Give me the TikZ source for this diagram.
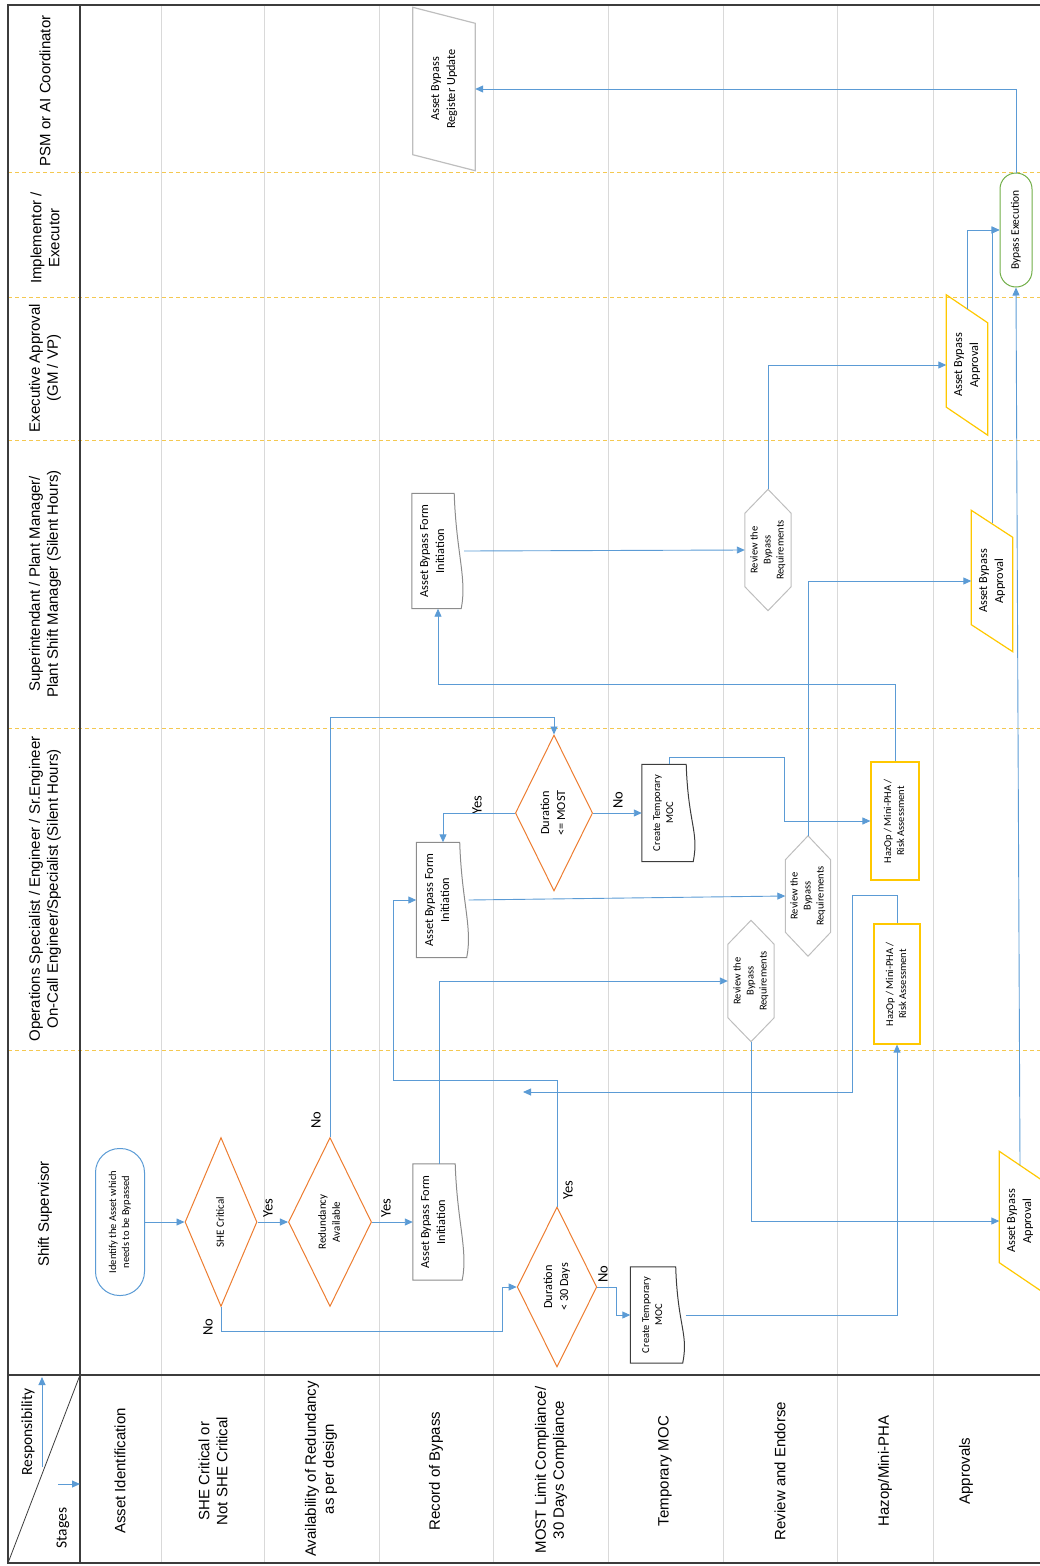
\documentclass[tikz,border=0pt]{standalone}
\usepackage{fontspec}
\setmainfont{Carlito}
\newfontfamily\arialfont{Liberation Sans}
\usepackage{graphicx}
\usepackage{xcolor}
\definecolor{flowblue}{RGB}{91,155,213}
\definecolor{diaorange}{RGB}{237,125,49}
\definecolor{hazgold}{RGB}{255,200,0}
\definecolor{lanedash}{RGB}{244,200,80}
\definecolor{gridgray}{RGB}{217,217,217}
\definecolor{hexgray}{RGB}{190,190,190}
\definecolor{docgray}{RGB}{140,140,140}
\definecolor{darkline}{RGB}{60,60,60}
\definecolor{execgreen}{RGB}{112,173,71}
\usetikzlibrary{shapes.geometric,arrows.meta}

\newcommand\smallnode{\fontsize{10.5}{13}\selectfont}
\newcommand\diafont{\fontsize{11}{14}\selectfont}
\newcommand\midnode{\fontsize{12.3}{16}\selectfont}
\newcommand\rtxt[1]{\rotatebox{90}{\begin{tabular}{@{}c@{}}#1\end{tabular}}}
% outlines drawn round plain boxes
\newcommand\docoutline[2]{\draw[#2, line width=1pt] (#1.north west) -- (#1.north east)
  .. controls +(2,60) and +(6,-30) .. ([xshift=7pt]#1.south east) -- (#1.south west) -- cycle;}
\newcommand\slantoutline[3]{\draw[#3, line width=1.2pt] (#1.north west) -- ([yshift=-#2pt]#1.north east)
  -- (#1.south east) -- ([yshift=#2pt]#1.south west) -- cycle;}
\newcommand\hexoutline[1]{\draw[hexgray, line width=1pt] (#1.north) -- ([yshift=-24pt]#1.north east)
  -- ([yshift=24pt]#1.south east) -- (#1.south) -- ([yshift=24pt]#1.south west)
  -- ([yshift=-24pt]#1.north west) -- cycle;}

\begin{document}
\begin{tikzpicture}[x=1pt, y=-1pt,
    flow/.style={->, >={Triangle[length=8pt,width=7pt]}, flowblue, line width=0.9pt},
    gridline/.style={gridgray, line width=0.8pt},
    lanesep/.style={lanedash, line width=0.8pt, dash pattern=on 4pt off 3pt},
    frameline/.style={darkline, line width=1.8pt},
    headline/.style={darkline, line width=1.2pt},
    lanetxt/.style={rotate=90, align=center, font=\arialfont\fontsize{15}{18}\selectfont},
    cornertxt/.style={rotate=90, font=\fontsize{15.5}{17}\selectfont},
    yn/.style={rotate=90, inner sep=0, font=\fontsize{14.5}{16}\selectfont},
    term/.style={rectangle, draw, line width=1pt, inner sep=0, font=\smallnode},
    decision/.style={diamond, draw=diaorange, line width=1pt, fill=white, inner sep=0, font=\midnode},
    hazard/.style={rectangle, draw=hazgold, line width=1.2pt, inner sep=0, font=\smallnode},
    plainbox/.style={rectangle, inner sep=0},
]
\useasboundingbox (0,0) rectangle (1039,1566);

%% --- stage grid and lane separators ---
\foreach \gx in {161,264,379,493,608,723,837,933}{
  \draw[gridline] (\gx,5) -- (\gx,1563);
}
\foreach \ly in {172,297,440,728,1050}{
  \draw[lanesep] (8,\ly) -- (1045,\ly);
}

%% --- frame ---
\draw[frameline] (8,5) rectangle (1045,1563);
\draw[headline] (80,5) -- (80,1563);
\draw[headline] (8,1375) -- (1045,1375);
\draw[darkline, line width=0.8pt] (8,1563) -- (80,1375);

%% --- lanes ---
\node[lanetxt] (laneP) at (45,91) {PSM or AI Coordinator};
\node[lanetxt] (laneI) at (45,238) {Implementor /\\Executor};
\node[lanetxt] (laneE) at (45,368) {Executive Approval\\(GM / VP)};
\node[lanetxt] (laneS) at (45,584) {Superintendant / Plant Manager/\\Plant Shift Manager (Silent Hours)};
\node[lanetxt] (laneO) at (45,889) {Operations Specialist / Engineer / Sr.Engineer\\On-Call Engineer/Specialist (Silent Hours)};
\node[lanetxt] (laneSS) at (45,1214) {Shift Supervisor};

%% --- stages ---
\node[lanetxt] (stgA) at (120,1471) {Asset Identification};
\node[lanetxt] (stgB) at (213,1471) {SHE Critical or\\Not SHE Critical};
\node[lanetxt] (stgC) at (321,1469) {Availability of Redundancy\\as per design};
\node[lanetxt] (stgD) at (436,1471) {Record of Bypass};
\node[lanetxt] (stgE) at (551,1470) {MOST Limit Compliance/\\30 Days Compliance};
\node[lanetxt] (stgF) at (665,1471) {Temporary MOC};
\node[lanetxt] (stgG) at (780,1471) {Review and Endorse};
\node[lanetxt] (stgH) at (885,1471) {Hazop/Mini-PHA};
\node[lanetxt] (stgI) at (966,1471) {Approvals};

%% --- corner ---
\node[cornertxt] (respLbl) at (28,1432) {Responsibility};
\node[cornertxt] (stgLbl) at (63,1528) {Stages};
\coordinate (respTail) at (42,1467);
\coordinate (respHead) at (42,1377);
\coordinate (stgTail) at (58,1484);
\coordinate (stgHead) at (80,1484);
\draw[flow] (respTail) -- (respHead);
\draw[flow] (stgTail) -- (stgHead);

%% --- shift supervisor ---
\node[term, draw=flowblue, minimum width=49, minimum height=147, rounded corners=24] (start) at (120,1222)
  {\rtxt{Identify the Asset which\\needs to be Bypassed}};
\node[decision, minimum width=72, minimum height=169] (sheCrit) at (221,1222) {\diafont\rtxt{SHE Critical}};
\node[decision, minimum width=74, minimum height=169] (redund) at (330,1222) {\diafont\rtxt{Redundancy\\Available}};
\node[plainbox, font=\midnode, minimum width=42, minimum height=116] (abfiA) at (434,1222)
  {\rtxt{Asset Bypass Form\\Initiation}};
\node[decision, minimum width=73, minimum height=160] (durA) at (557,1287) {\rtxt{Duration\\< 30 Days}};
\node[plainbox, font=\smallnode, minimum width=45, minimum height=96] (ctmA) at (653,1315)
  {\rtxt{Create Temporary\\MOC}};
\node[plainbox, font=\midnode, minimum width=41, minimum height=139] (apprA) at (1020,1221)
  {\rtxt{Asset Bypass\\Approval}};

%% --- operations specialist ---
\node[decision, minimum width=76, minimum height=156] (durB) at (554,813) {\rtxt{Duration\\<= MOST}};
\node[plainbox, font=\midnode, minimum width=43, minimum height=115] (abfiB) at (438,900)
  {\rtxt{Asset Bypass Form\\Initiation}};
\node[plainbox, font=\smallnode, minimum width=44, minimum height=97] (ctmB) at (664,813)
  {\rtxt{Create Temporary\\MOC}};
\node[plainbox, font=\smallnode, minimum width=46, minimum height=121] (review1) at (751,981)
  {\rtxt{Review the\\Bypass\\Requirements}};
\node[plainbox, font=\smallnode, minimum width=45, minimum height=120] (review2) at (808,896)
  {\rtxt{Review the\\Bypass\\Requirements}};
\node[hazard, minimum width=48, minimum height=118] (hazopA) at (895,821)
  {\rtxt{HazOp / Mini-PHA /\\Risk Assessment}};
\node[hazard, minimum width=46, minimum height=120] (hazopB) at (897,984)
  {\rtxt{HazOp / Mini-PHA /\\Risk Assessment}};

%% --- superintendant ---
\node[plainbox, font=\midnode, minimum width=42, minimum height=115] (abfiC) at (433,551)
  {\rtxt{Asset Bypass Form\\Initiation}};
\node[plainbox, font=\smallnode, minimum width=46, minimum height=121] (review3) at (768,550)
  {\rtxt{Review the\\Bypass\\Requirements}};
\node[plainbox, font=\midnode, minimum width=41, minimum height=141] (apprB) at (992,581)
  {\rtxt{Asset Bypass\\Approval}};

%% --- executive, implementor, coordinator ---
\node[plainbox, font=\midnode, minimum width=41, minimum height=140] (apprC) at (967,365)
  {\rtxt{Asset Bypass\\Approval}};
\node[term, draw=execgreen, font=\fontsize{11.5}{14}\selectfont, minimum width=32, minimum height=114, rounded corners=16] (bpExec) at (1016,230)
  {\rtxt{Bypass Execution}};
\node[plainbox, font=\midnode, minimum width=62, minimum height=163] (regUpdate) at (444,89)
  {\rtxt{Asset Bypass\\Register Update}};

%% --- outlines ---
\docoutline{abfiA}{docgray}
\docoutline{abfiB}{docgray}
\docoutline{abfiC}{docgray}
\docoutline{ctmA}{darkline}
\docoutline{ctmB}{darkline}
\hexoutline{review1}
\hexoutline{review2}
\hexoutline{review3}
\slantoutline{apprA}{28}{hazgold}
\slantoutline{apprB}{27}{hazgold}
\slantoutline{apprC}{28}{hazgold}
\slantoutline{regUpdate}{16}{hexgray}

%% --- yes / no ---
\node[yn] (yesShe) at (268,1208) {Yes};
\node[yn] (noShe) at (208,1327) {No};
\node[yn] (noRed) at (316,1120) {No};
\node[yn] (yesRed) at (386,1208) {Yes};
\node[yn] (yesDurA) at (568,1190) {Yes};
\node[yn] (noDurA) at (603,1274) {No};
\node[yn] (yesDurB) at (477,805) {Yes};
\node[yn] (noDurB) at (618,800) {No};

%% --- connectors ---
\draw[flow] (start.east) -- (sheCrit.west);
\draw[flow] (sheCrit.east) -- (redund.west);
\draw[flow] (sheCrit.south) |- (502,1331) |- (durA.west);
\draw[flow] (redund.east) -- (abfiA.west);
\draw[flow] (redund.north) |- ([yshift=17pt]durB.north) -- (durB.north);
\draw[flow] ([xshift=5pt]abfiA.north) |- (review1.west);
\draw[flow] (durA.north) |- (393,1080) |- (abfiB.west);
\draw[flow] (durA.east) -- ++(19,0) |- (ctmA.west);
\draw[flow] ([xshift=10pt]ctmA.east) -| (hazopB.south);
\coordinate (hzEnd) at (523,1092);
\draw[flow] (hazopB.north) -- ++(0,-28) -| (852,1092) -- (hzEnd);
\draw[flow] (review1.south) |- (apprA.west);
\draw[flow] (durB.west) -| ([xshift=5pt]abfiB.north);
\draw[flow] (durB.east) -- (durB.east -| ctmB.west);
\draw[flow] ([xshift=5pt]ctmB.north) -- ++(0,-7) -| (784,821) -- (hazopA.west);
\draw[flow] ([xshift=9pt]abfiB.east) -- (review2.west);
\draw[flow] (review2.north) |- (apprB.west);
\draw[flow] (hazopA.north) -- ++(0,-77) -| ([xshift=5pt]abfiC.south);
\draw[flow] ([xshift=10pt]abfiC.east) -- (review3.west);
\draw[flow] (review3.north) |- (apprC.west);
\draw[flow] ([yshift=-14pt]apprC.north) |- (bpExec.west);
\draw[flow] ([yshift=-13pt]apprB.north) |- (bpExec.west);
\draw[flow] ([yshift=-14pt]apprA.north) -- (bpExec.south);
\draw[flow] (bpExec.north) |- (regUpdate.east);

\end{tikzpicture}
\end{document}
